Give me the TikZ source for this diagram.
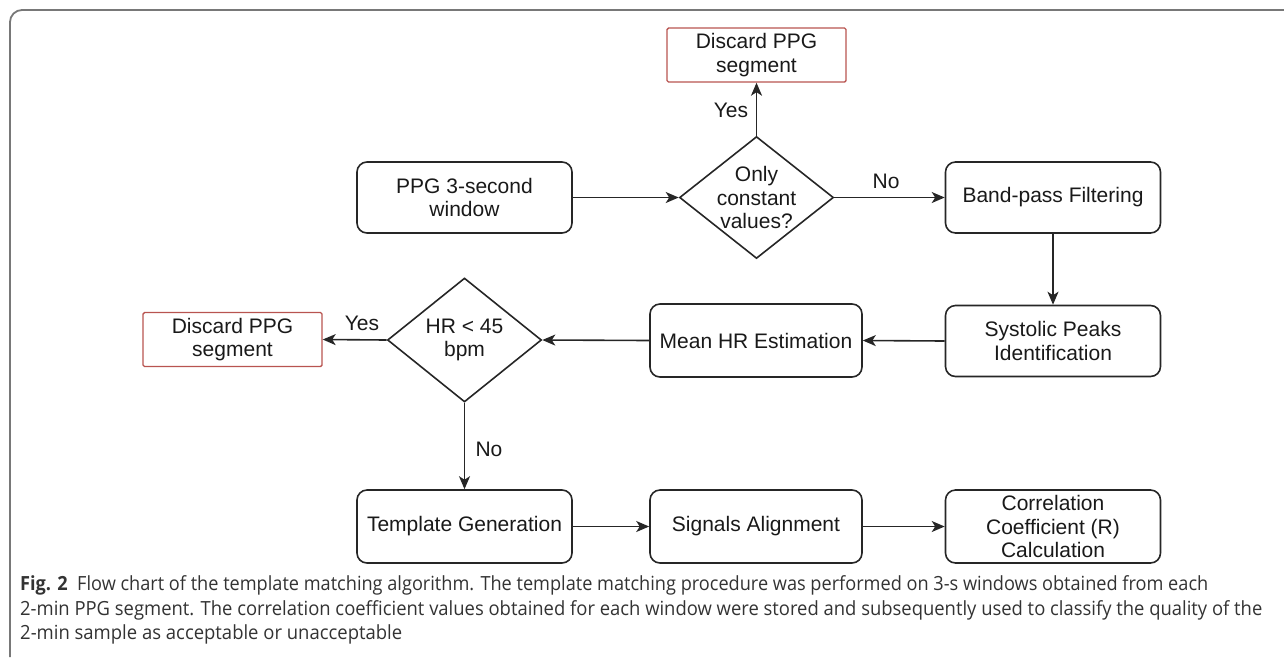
\documentclass[tikz,border=0pt]{standalone}
\usepackage{fontspec}
\setmainfont{Liberation Sans}
\newfontfamily\capfont{Open Sans}
\usetikzlibrary{shapes.geometric,arrows.meta}
\definecolor{redline}{RGB}{184,84,80}
\definecolor{framegray}{RGB}{120,120,120}
\begin{document}
\begin{tikzpicture}[x=1pt,y=-1pt,
  every node/.style={font=\fontsize{21}{23.5}\selectfont, text=black!90},
  box/.style={draw=black!85, line width=1.6pt, rounded corners=10pt, minimum width=215pt, minimum height=71pt, inner sep=0pt, align=center},
  redbox/.style={draw=redline, line width=1.4pt, rounded corners=1.5pt, minimum width=179pt, minimum height=54pt, inner sep=0pt, align=center},
  dia/.style={draw=black!85, line width=1.6pt, diamond, minimum width=154pt, minimum height=122pt, inner sep=0pt},
  diatext/.style={inner sep=0pt, align=center},
  lbl/.style={inner sep=0pt},
  arr/.style={draw=black!85, line width=1.6pt, -{Stealth[length=13pt,width=11pt,inset=3.5pt]}},
  capline/.style={anchor=base west, inner sep=0pt, font=\capfont\fontsize{19.5}{22}\selectfont, text=black!80}
]
\useasboundingbox (0,0) rectangle (1284,657);
% frame
\draw[framegray, line width=1.8pt] (1284,10) -- (22,10) arc[start angle=90, end angle=180, radius=12pt] -- (10,657);

% nodes
\node[box] (ppg) at (464.5,197.5) {PPG 3-second\\window};
\node[dia] (d1) at (756.5,197.5) {};
\node[diatext] (d1t) at (d1.center) {Only\\constant\\values?};
\node[redbox] (dtop) at (756.5,55) {Discard PPG\\segment};
\node[box] (band) at (1053,197.5) {Band-pass Filtering};
\node[box] (sys) at (1053,341) {Systolic Peaks\\Identification};
\node[box, minimum width=212pt, minimum height=73pt] (mhr) at (756,340.5) {Mean HR Estimation};
\node[dia, minimum height=124pt] (d2) at (464.5,340) {};
\node[diatext] (d2t) at (d2.center) {HR < 45\\bpm};
\node[redbox] (dleft) at (232.5,339.5) {Discard PPG\\segment};
\node[box, minimum height=73pt] (tmpl) at (464.5,526.5) {Template Generation};
\node[box, minimum width=212pt, minimum height=73pt] (sig) at (756,526.5) {Signals Alignment};
\node[box, minimum height=73pt] (corr) at (1053,526.5) {Correlation\\Coefficient (R)\\Calculation};

% connectors
\draw[arr] (ppg) -- (d1);
\draw[arr] (d1.north) -- (dtop.south);
\draw[arr] (d1.east) -- (band.west);
\draw[arr] (band.south) -- (sys.north);
\draw[arr] (sys.west) -- (mhr.east);
\draw[arr] (mhr.west) -- (d2.east);
\draw[arr] (d2.west) -- (dleft.east);
\draw[arr] (d2.south) -- (tmpl.north);
\draw[arr] (tmpl.east) -- (sig.west);
\draw[arr] (sig.east) -- (corr.west);

% labels
\node[lbl] (yes1) at (731,110) {Yes};
\node[lbl] (no1) at (886,181) {No};
\node[lbl] (yes2) at (362,323) {Yes};
\node[lbl] (no2) at (489,449) {No};

% caption
\node[capline] (c1) at (20,590) {\resizebox{1188pt}{\height}{\textbf{Fig. 2}\ \ Flow chart of the template matching algorithm. The template matching procedure was performed on 3-s windows obtained from each}};
\node[capline] (c2) at (20,615) {\resizebox{1242pt}{\height}{2-min PPG segment. The correlation coefficient values obtained for each window were stored and subsequently used to classify the quality of the}};
\node[capline] (c3) at (20,639) {\resizebox{382pt}{\height}{2-min sample as acceptable or unacceptable}};
\end{tikzpicture}
\end{document}
